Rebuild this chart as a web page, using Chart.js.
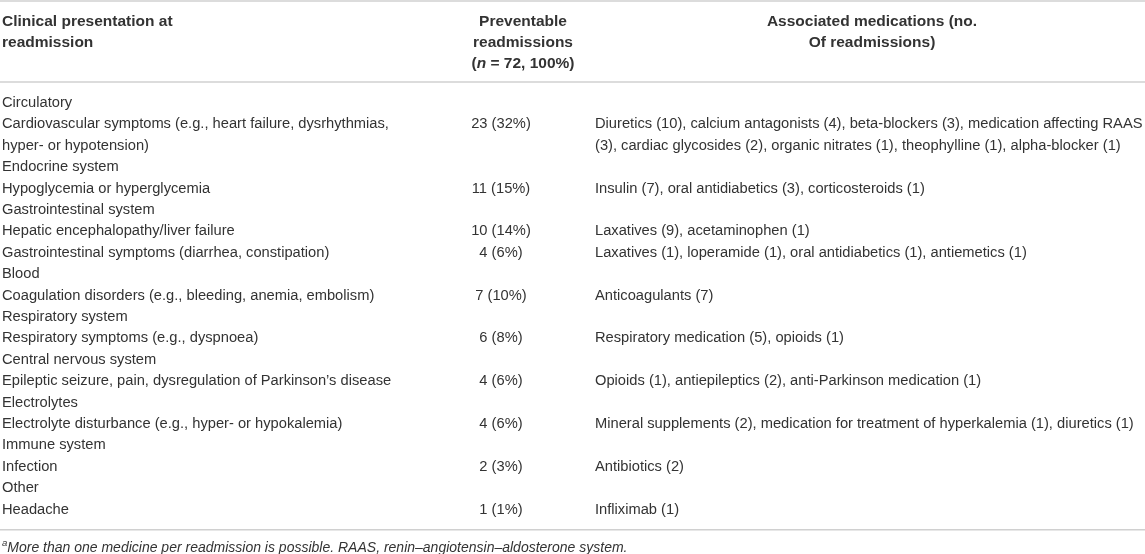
<!DOCTYPE html>
<html>
<head>
<meta charset="utf-8">
<script src="https://cdn.jsdelivr.net/npm/chart.js@4.4.1/dist/chart.umd.min.js"></script>
<style>
  html, body { margin: 0; padding: 0; background: #fff; }
  #wrap { width: 1145px; height: 554px; }
</style>
</head>
<body>
<div id="wrap"><canvas id="tbl" width="1145" height="554"></canvas></div>
<script>
// ---- table data ----
const groups = ['Circulatory', 'Endocrine system', 'Gastrointestinal system', 'Blood', 'Respiratory system',
  'Central nervous system', 'Electrolytes', 'Immune system', 'Other'];
const presentations = [
  ['Cardiovascular symptoms (e.g., heart failure, dysrhythmias,', 'hyper- or hypotension)'],
  ['Hypoglycemia or hyperglycemia'],
  ['Hepatic encephalopathy/liver failure'],
  ['Gastrointestinal symptoms (diarrhea, constipation)'],
  ['Coagulation disorders (e.g., bleeding, anemia, embolism)'],
  ['Respiratory symptoms (e.g., dyspnoea)'],
  ['Epileptic seizure, pain, dysregulation of Parkinson\u2019s disease'],
  ['Electrolyte disturbance (e.g., hyper- or hypokalemia)'],
  ['Infection'],
  ['Headache']
];
const groupOf = [0, 1, 2, 2, 3, 4, 5, 6, 7, 8];
const readmissions = [23, 11, 10, 4, 7, 6, 4, 4, 2, 1];
const percents = [32, 15, 14, 6, 10, 8, 6, 6, 3, 1];
const medications = [
  ['Diuretics (10), calcium antagonists (4), beta-blockers (3), medication affecting RAAS',
   '(3), cardiac glycosides (2), organic nitrates (1), theophylline (1), alpha-blocker (1)'],
  ['Insulin (7), oral antidiabetics (3), corticosteroids (1)'],
  ['Laxatives (9), acetaminophen (1)'],
  ['Laxatives (1), loperamide (1), oral antidiabetics (1), antiemetics (1)'],
  ['Anticoagulants (7)'],
  ['Respiratory medication (5), opioids (1)'],
  ['Opioids (1), antiepileptics (2), anti-Parkinson medication (1)'],
  ['Mineral supplements (2), medication for treatment of hyperkalemia (1), diuretics (1)'],
  ['Antibiotics (2)'],
  ['Infliximab (1)']
];
const header1 = ['Clinical presentation at', 'readmission'];
const header2 = ['Preventable', 'readmissions'];
const header3 = ['Associated medications (no.', 'Of readmissions)'];
const totalN = 72;
const footnote = 'More than one medicine per readmission is possible. RAAS, renin\u2013angiotensin\u2013aldosterone system.';

// ---- layout (scale units: x in px columns, y in text lines) ----
const colX = { first: 2, count: 501, countHead: 523, meds: 595, medsHead: 872 };
const headY = [-3.78, -2.8, -1.82];
const ruleY = [-4.77, -0.98, 19.95];
const noteY = 20.8;

const FONT = '"Liberation Sans", Arial, sans-serif';
const bodyFont = '14.7px ' + FONT;
const boldFont = 'bold 15.5px ' + FONT;

// build cells from the arrays
const cells = [];
const cell = (x, y, align, runs) => cells.push({ x: x, y: y, align: align, runs: runs });
const plain = t => [{ t: t, f: bodyFont }];
const bold = t => [{ t: t, f: boldFont }];

header1.forEach((t, i) => cell(colX.first, headY[i], 'left', bold(t)));
header2.forEach((t, i) => cell(colX.countHead, headY[i], 'center', bold(t)));
cell(colX.countHead, headY[2], 'center', [
  { t: '(', f: boldFont }, { t: 'n', f: 'italic bold 15.5px ' + FONT }, { t: ' = ' + totalN + ', 100%)', f: boldFont }
]);
header3.forEach((t, i) => cell(colX.medsHead, headY[i], 'center', bold(t)));

let line = 0;
let lastGroup = -1;
presentations.forEach((rows, i) => {
  if (groupOf[i] !== lastGroup) {
    cell(colX.first, line, 'left', plain(groups[groupOf[i]]));
    lastGroup = groupOf[i];
    line++;
  }
  cell(colX.count, line, 'center', plain(readmissions[i] + ' (' + percents[i] + '%)'));
  rows.forEach((t, k) => cell(colX.first, line + k, 'left', plain(t)));
  medications[i].forEach((t, k) => cell(colX.meds, line + k, 'left', plain(t)));
  line += Math.max(rows.length, medications[i].length);
});

cell(colX.first, noteY, 'left', [
  { t: 'a', f: 'italic 9.5px ' + FONT, sup: true },
  { t: footnote, f: 'italic 14px ' + FONT }
]);

const rules = ruleY.map(y => ({
  data: [{ x: 0, y: y }, { x: 1145, y: y }],
  showLine: true, borderColor: '#d0d0d0', borderWidth: 1.5, pointRadius: 0
}));

const textPlugin = {
  id: 'cellText',
  afterDatasetsDraw(chart) {
    const ctx = chart.ctx;
    chart.data.datasets.forEach((ds, i) => {
      if (!ds.isText) return;
      const meta = chart.getDatasetMeta(i);
      meta.data.forEach((pt, j) => {
        const c = ds.data[j];
        ctx.save();
        ctx.fillStyle = '#333333';
        ctx.textBaseline = 'middle';
        let w = 0;
        c.runs.forEach(r => { ctx.font = r.f; w += ctx.measureText(r.t).width; });
        let x = c.align === 'center' ? pt.x - w / 2 : pt.x;
        c.runs.forEach(r => {
          ctx.font = r.f;
          ctx.fillText(r.t, x, r.sup ? pt.y - 5 : pt.y);
          x += ctx.measureText(r.t).width;
        });
        ctx.restore();
      });
    });
  }
};

new Chart(document.getElementById('tbl'), {
  type: 'scatter',
  data: {
    datasets: [{ data: cells, isText: true, pointRadius: 0 }].concat(rules)
  },
  options: {
    responsive: false,
    animation: false,
    events: [],
    layout: { padding: 0 },
    scales: {
      x: { type: 'linear', min: 0, max: 1145, display: false },
      y: { type: 'linear', min: -4.815, max: 21.08, reverse: true, display: false }
    },
    plugins: { legend: { display: false }, tooltip: { enabled: false } }
  },
  plugins: [textPlugin]
});
</script>
</body>
</html>
